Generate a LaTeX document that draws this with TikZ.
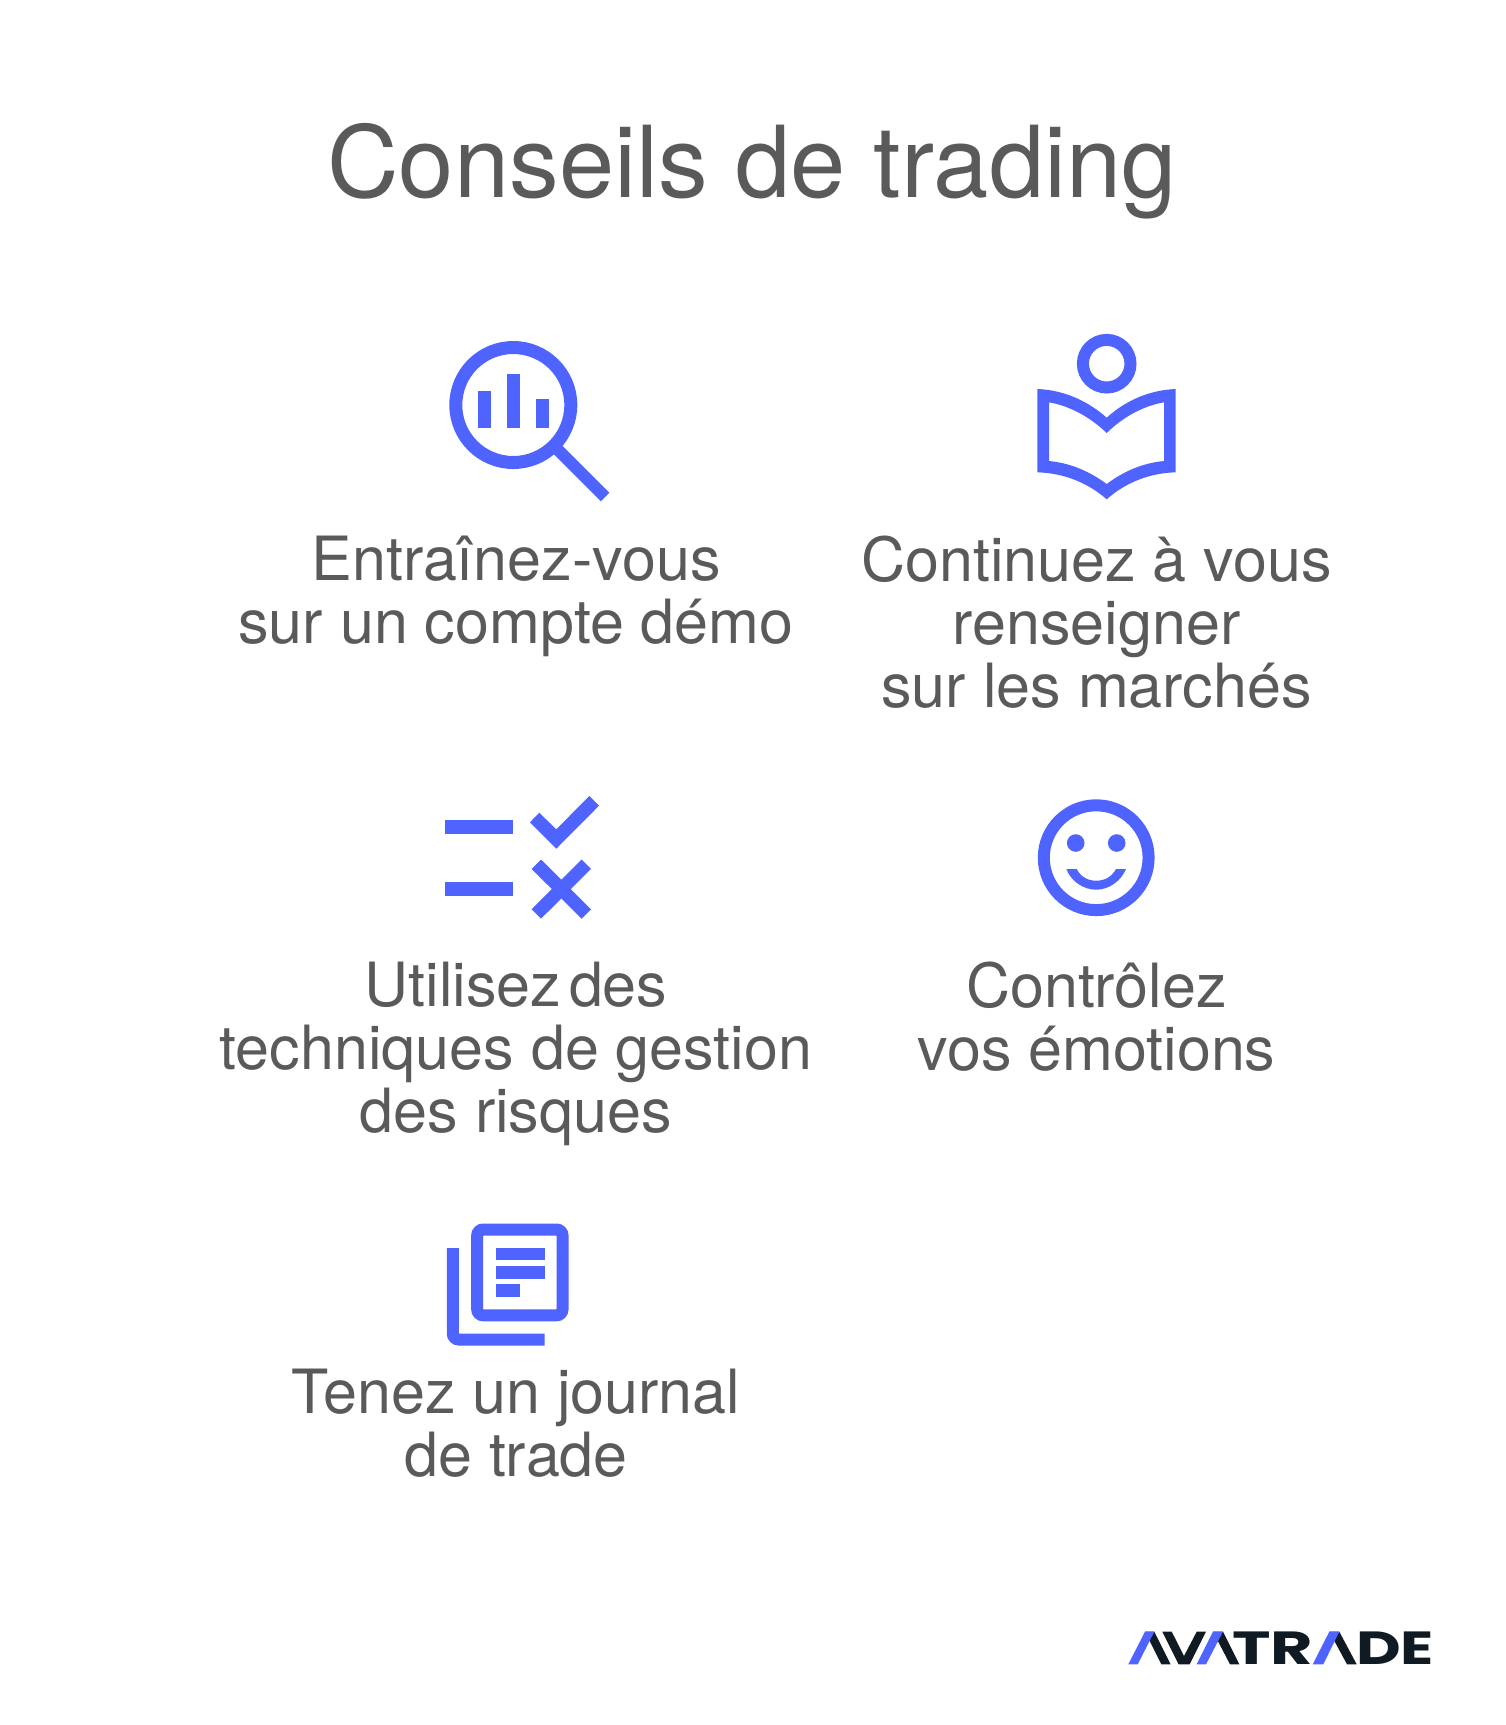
\documentclass[tikz,border=0pt]{standalone}
\usepackage{graphicx}
\usepackage{fontspec}
\setmainfont{TeX Gyre Heros}
\newfontfamily\logofont{Poppins}
\definecolor{brandblue}{HTML}{4F63FF}
\definecolor{brandink}{HTML}{101A22}
\definecolor{labelgrey}{HTML}{5A5A5A}
\tikzset{
  iconline/.style={draw=brandblue,line width=12pt},
  iconfill/.style={fill=brandblue},
  labeltext/.style={text=labelgrey,align=center,inner sep=0pt,anchor=north,font=\fontsize{61}{63}\selectfont},
  logotext/.style={text=brandink,inner sep=0pt,anchor=south west}
}
\begin{document}
\begin{tikzpicture}[x=1pt,y=-1pt]
  \useasboundingbox (0,0) rectangle (1506,1725);
  \node[inner sep=0pt,text=labelgrey,font=\fontsize{99.3}{100}\selectfont,anchor=base] (title) at (752,197.5) {Conseils de trading};
  % labels
  \node[labeltext] (demo) at (516,535.5) {Entraînez-vous\\sur un compte démo};
  \node[labeltext] (learn) at (1096.5,535.5) {Continuez à vous\\renseigner\\sur les marchés};
  \node[labeltext] (risk) at (516,962) {{\spaceskip=.13em Utilisez des}\\techniques de gestion\\des risques};
  \node[labeltext] (mood) at (1096.5,962) {Contrôlez\\vos émotions};
  \node[labeltext] (journal) at (516,1369) {Tenez un journal\\de trade};
  % magnifier
  \draw[iconline,line width=13pt] (513.3,405) circle (57.5);
  \draw[iconline] (553,445) -- (605.2,497);
  \fill[iconfill] (478.3,390.7) rectangle (491,427.7);
  \fill[iconfill] (507.3,374) rectangle (519.7,427.7);
  \fill[iconfill] (536,399) rectangle (549,427.7);
  % book
  \draw[iconline] (1106.7,363.7) circle (23.8);
  \fill[iconfill,even odd rule] (1037.3,389) .. controls (1064,390) and (1088,401) .. (1106.7,417.7)
    .. controls (1125,401) and (1149,390) .. (1175.7,389) -- (1175.7,472.3)
    .. controls (1149,473) and (1125,483) .. (1106.7,499.3)
    .. controls (1088,483) and (1064,473) .. (1037.3,472.3) -- cycle
    (1049,402.3) .. controls (1070,406) and (1090,417) .. (1106.7,433)
    .. controls (1123,417) and (1143,406) .. (1164,402.3) -- (1164,461)
    .. controls (1143,463) and (1124,471) .. (1106.7,484)
    .. controls (1089,471) and (1070,463) .. (1049,461) -- cycle;
  % checklist
  \fill[iconfill] (445,820) rectangle (513.3,833.7);
  \fill[iconfill] (445,882.3) rectangle (513.3,896.3);
  \fill[iconfill] (530,822.3) -- (539.3,812.7) -- (556.3,829.3) -- (589.3,796) -- (599,805.7) -- (556.3,848.7) -- cycle;
  \draw[iconline,line width=13.3pt] (536.3,864.2) -- (586.3,914);
  \draw[iconline,line width=13.3pt] (586.3,864.2) -- (536.3,914);
  % smiley
  \draw[iconline] (1096.2,857.7) circle (52.4);
  \fill[iconfill] (1075.7,843) circle (8.8);
  \fill[iconfill] (1116.7,843) circle (8.8);
  \fill[iconfill] (1066.3,869) .. controls (1071,881) and (1083,889.7) .. (1096.2,889.7)
    .. controls (1109,889.7) and (1121,881) .. (1126,869) -- (1116,869)
    .. controls (1112,876.5) and (1105,880.7) .. (1096.2,880.7)
    .. controls (1087.5,880.7) and (1080.5,876.5) .. (1076.7,869) -- cycle;
  % journal
  \draw[iconline,rounded corners=6pt] (477.2,1229.5) rectangle (562.5,1315.3);
  \draw[iconline,rounded corners=6pt] (452.8,1248) -- (452.8,1339.5) -- (544.7,1339.5);
  \fill[iconfill] (495.7,1248) rectangle (544.7,1260.3);
  \fill[iconfill] (495.7,1266.3) rectangle (544.7,1278.7);
  \fill[iconfill] (495.7,1284.3) rectangle (520,1297);
  % logo
  \fill[brandink] (1154.3,1631.7) -- (1170.6,1664.3) -- (1161.3,1664.3) -- (1145,1631.7) -- cycle;
  \fill[brandink] (1162.3,1631.7) -- (1171.7,1631.7) -- (1184,1656) -- (1196.7,1631.7) -- (1206,1631.7) -- (1189.7,1664.3) -- (1178.6,1664.3) -- cycle;
  \fill[brandink] (1223,1631.7) -- (1239.3,1664.3) -- (1230,1664.3) -- (1213,1631.7) -- cycle;
  \fill[brandink] (1339.3,1631.7) -- (1356.7,1664.3) -- (1347,1664.3) -- (1329.3,1631.7) -- cycle;
  \fill[brandblue] (1128.3,1664.3) -- (1137.7,1664.3) -- (1154.3,1631.7) -- (1145,1631.7) -- cycle;
  \fill[brandblue] (1196.7,1664.3) -- (1206,1664.3) -- (1223,1631.7) -- (1213,1631.7) -- cycle;
  \fill[brandblue] (1312.7,1664.3) -- (1323.3,1664.3) -- (1339.3,1631.7) -- (1329.3,1631.7) -- cycle;
  \node[logotext] (logotr) at (1232,1664.3) {\resizebox{81pt}{32.6pt}{\logofont\bfseries TR}};
  \node[logotext] (logode) at (1356,1664.3) {\resizebox{78pt}{32.6pt}{\logofont\bfseries DE}};
\end{tikzpicture}
\end{document}
